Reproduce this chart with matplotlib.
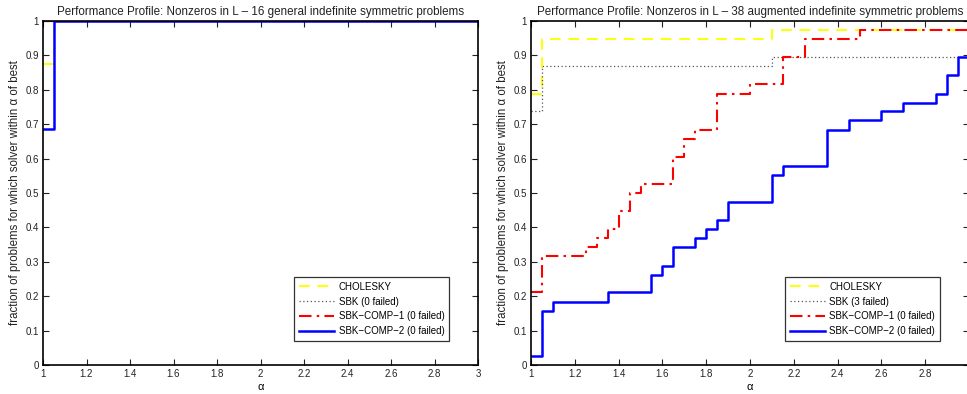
import matplotlib
matplotlib.use("Agg")
import matplotlib.pyplot as plt
import matplotlib.ticker as ticker

plt.rcParams["font.family"] = ["Liberation Sans", "DejaVu Sans"]

# ── Data (fraction of problems, stairs breakpoints in alpha) ─────────────────
X_MAX = 3.0

# Left panel: 16 general indefinite symmetric problems
L_CHOL_X = [1.0, 1.05]
L_CHOL_Y = [0.875, 1.0]
L_SBK_X = [1.0]
L_SBK_Y = [1.0]
L_C1_X = [1.0]
L_C1_Y = [1.0]
L_C2_X = [1.0, 1.05]
L_C2_Y = [0.6875, 1.0]

# Right panel: 38 augmented indefinite symmetric problems
R_CHOL_X = [1.0, 1.05, 2.10]
R_CHOL_Y = [0.789, 0.947, 0.974]
R_SBK_X = [1.0, 1.05, 2.10]
R_SBK_Y = [0.737, 0.868, 0.895]
R_C1_X = [1.0, 1.05, 1.25, 1.30, 1.35, 1.40, 1.45, 1.50, 1.65, 1.70, 1.75,
          1.85, 2.00, 2.15, 2.25, 2.50]
R_C1_Y = [0.211, 0.316, 0.342, 0.368, 0.395, 0.447, 0.500, 0.526, 0.605,
          0.658, 0.684, 0.789, 0.816, 0.895, 0.947, 0.974]
R_C2_X = [1.0, 1.05, 1.10, 1.35, 1.55, 1.60, 1.65, 1.75, 1.80, 1.85, 1.90,
          2.10, 2.15, 2.35, 2.45, 2.60, 2.70, 2.85, 2.90, 2.95]
R_C2_Y = [0.026, 0.158, 0.184, 0.211, 0.263, 0.289, 0.342, 0.368, 0.395,
          0.421, 0.474, 0.553, 0.579, 0.684, 0.711, 0.737, 0.763, 0.789,
          0.842, 0.895]

TITLES = [
    "Performance Profile: Nonzeros in L \u2013 16 general indefinite symmetric problems",
    "Performance Profile: Nonzeros in L \u2013 38 augmented indefinite symmetric problems",
]
LEGENDS = [
    ["CHOLESKY", "SBK (0 failed)", "SBK\u2212COMP\u22121 (0 failed)", "SBK\u2212COMP\u22122 (0 failed)"],
    ["CHOLESKY", "SBK (3 failed)", "SBK\u2212COMP\u22121 (0 failed)", "SBK\u2212COMP\u22122 (0 failed)"],
]
X_TICKS = [1, 1.2, 1.4, 1.6, 1.8, 2, 2.2, 2.4, 2.6, 2.8, 3]
Y_TICKS = [0, 0.1, 0.2, 0.3, 0.4, 0.5, 0.6, 0.7, 0.8, 0.9, 1]

STYLES = [
    dict(color="#FFFF00", lw=1.4, ls=(0, (5.5, 4))),
    dict(color="#555555", lw=0.9, ls=(0, (1, 2))),
    dict(color="#FF0000", lw=1.5, ls=(0, (6, 2.5, 1.2, 2.5))),
    dict(color="#0000FF", lw=1.8, ls="-"),
]


def stairs(ax, xs, ys, style, label):
    x = list(xs) + [X_MAX]
    y = list(ys) + [ys[-1]]
    ax.step(x, y, where="post", label=label, zorder=2, **style)


fig = plt.figure(figsize=(9.67, 3.94), dpi=100)
ax_l = fig.add_axes([43 / 967, 29 / 394, 435 / 967, 344 / 394])
ax_r = fig.add_axes([531 / 967, 29 / 394, 438 / 967, 344 / 394])

panels = [
    (ax_l, [(L_CHOL_X, L_CHOL_Y), (L_SBK_X, L_SBK_Y), (L_C1_X, L_C1_Y), (L_C2_X, L_C2_Y)]),
    (ax_r, [(R_CHOL_X, R_CHOL_Y), (R_SBK_X, R_SBK_Y), (R_C1_X, R_C1_Y), (R_C2_X, R_C2_Y)]),
]

for i, (ax, series) in enumerate(panels):
    for (xs, ys), style, lab in zip(series, STYLES, LEGENDS[i]):
        stairs(ax, xs, ys, style, lab)

    ax.set_xlim(1, 3)
    ax.set_ylim(0, 1)
    ax.set_xticks(X_TICKS)
    ax.set_yticks(Y_TICKS)
    ax.xaxis.set_major_formatter(ticker.FormatStrFormatter("%g"))
    ax.yaxis.set_major_formatter(ticker.FormatStrFormatter("%g"))
    ax.tick_params(direction="in", length=4, width=0.8, labelsize=7,
                   top=True, right=True, pad=3, colors="#222222")
    for sp in ax.spines.values():
        sp.set_linewidth(1.2)
        sp.set_zorder(2.5)
    ax.set_title(TITLES[i], fontsize=8.4, color="#222222", pad=4)
    ax.set_xlabel("\u03b1", fontsize=8, labelpad=2)
    ax.set_ylabel("fraction of problems for which solver within \u03b1 of best",
                  fontsize=8.3, labelpad=3, color="#222222")

    leg = ax.legend(loc="lower right", bbox_to_anchor=(0.945, 0.055),
                    fontsize=7, frameon=True, fancybox=False,
                    edgecolor="black", handlelength=3.6, borderpad=0.5,
                    labelspacing=0.5, handletextpad=0.5)
    leg.get_frame().set_linewidth(0.9)

fig.savefig("out.png", dpi=100)
